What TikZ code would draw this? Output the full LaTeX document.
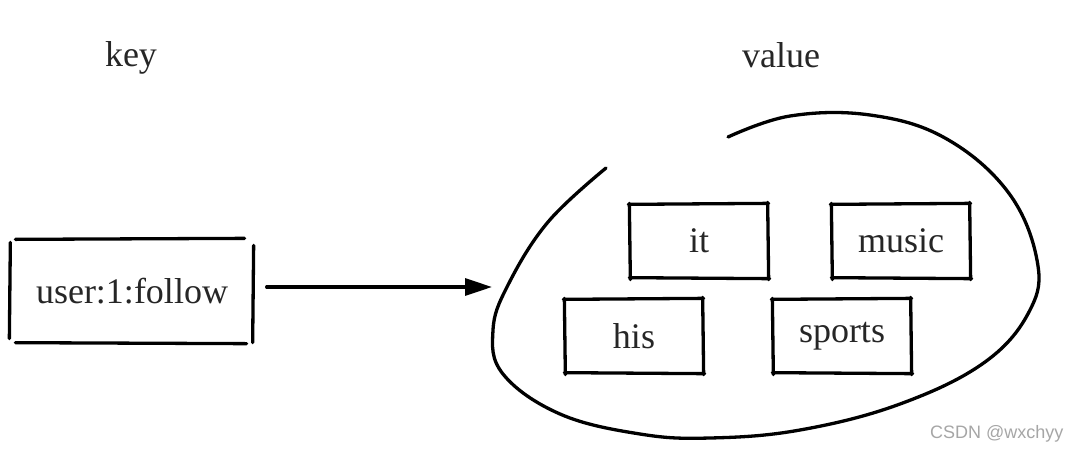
\documentclass[tikz,border=0pt]{standalone}
\usepackage{fontspec}
\setmainfont{Liberation Serif}
\newfontfamily\wmfont{Liberation Sans}
\usetikzlibrary{calc,arrows.meta}
\newcommand\skbox[1]{%
  \draw ($(#1.north west)+(-2,0)$) -- ($(#1.north east)+(1,-1)$);
  \draw ($(#1.north east)+(0,-2)$) -- ($(#1.south east)+(1,2)$);
  \draw ($(#1.south east)+(2,1)$) -- ($(#1.south west)+(-1,0)$);
  \draw ($(#1.south west)+(0,2)$) -- ($(#1.north west)+(-1,-1)$);}
\begin{document}
\begin{tikzpicture}[x=1pt,y=-1pt,line width=3.3pt,line cap=round,
  lbl/.style={font=\fontsize{36}{40}\selectfont,inner sep=0pt,text=black!85},
  vbox/.style={lbl,minimum width=134pt,minimum height=70pt}]
\useasboundingbox (0,0) rectangle (1069,451);
\fill[white] (0,0) rectangle (1069,451);
\node[lbl] (keylbl) at (131,58) {key};
\node[lbl] (vallbl) at (781,55) {value};
\node[lbl,minimum width=240pt,minimum height=100pt] (key) at (132,291) {user:1:follow};
\draw ($(key.north west)+(5,0)$) -- ($(key.north east)+(-9,-1)$);
\draw ($(key.north east)+(0,6)$) -- ($(key.south east)+(-1,0)$);
\draw ($(key.south west)+(5,0)$) -- ($(key.south east)+(-7,1)$);
\draw ($(key.north west)+(0,3)$) -- ($(key.south west)+(-1,-4)$);
% value boxes
\node[vbox] (it) at (699,241) {it};
\node[vbox] (music) at (901,241) {music};
\node[vbox] (his) at (634,336) {his};
\node[vbox] (sports) at (842,336) {sports};
\skbox{it}\skbox{music}\skbox{his}\skbox{sports}
% blob
\draw plot[smooth,tension=0.65] coordinates {(606,168) (548,222) (508,285) (493,330) (503,374) (560,414) (640,434) (710,438) (800,430) (900,404) (985,362) (1030,310) (1037,260) (1008,192) (945,138) (870,115) (790,116) (728,137)};
\coordinate (blobin) at (492,287);
\draw[-{Triangle[length=27pt,width=17pt]}] ($(key.east)+(13,-4)$) -- (blobin);
\node[font=\wmfont\fontsize{18}{20}\selectfont,text=black!35,anchor=east,inner sep=0pt] (wm) at (1065,434) {CSDN @wxchyy};
\end{tikzpicture}
\end{document}
